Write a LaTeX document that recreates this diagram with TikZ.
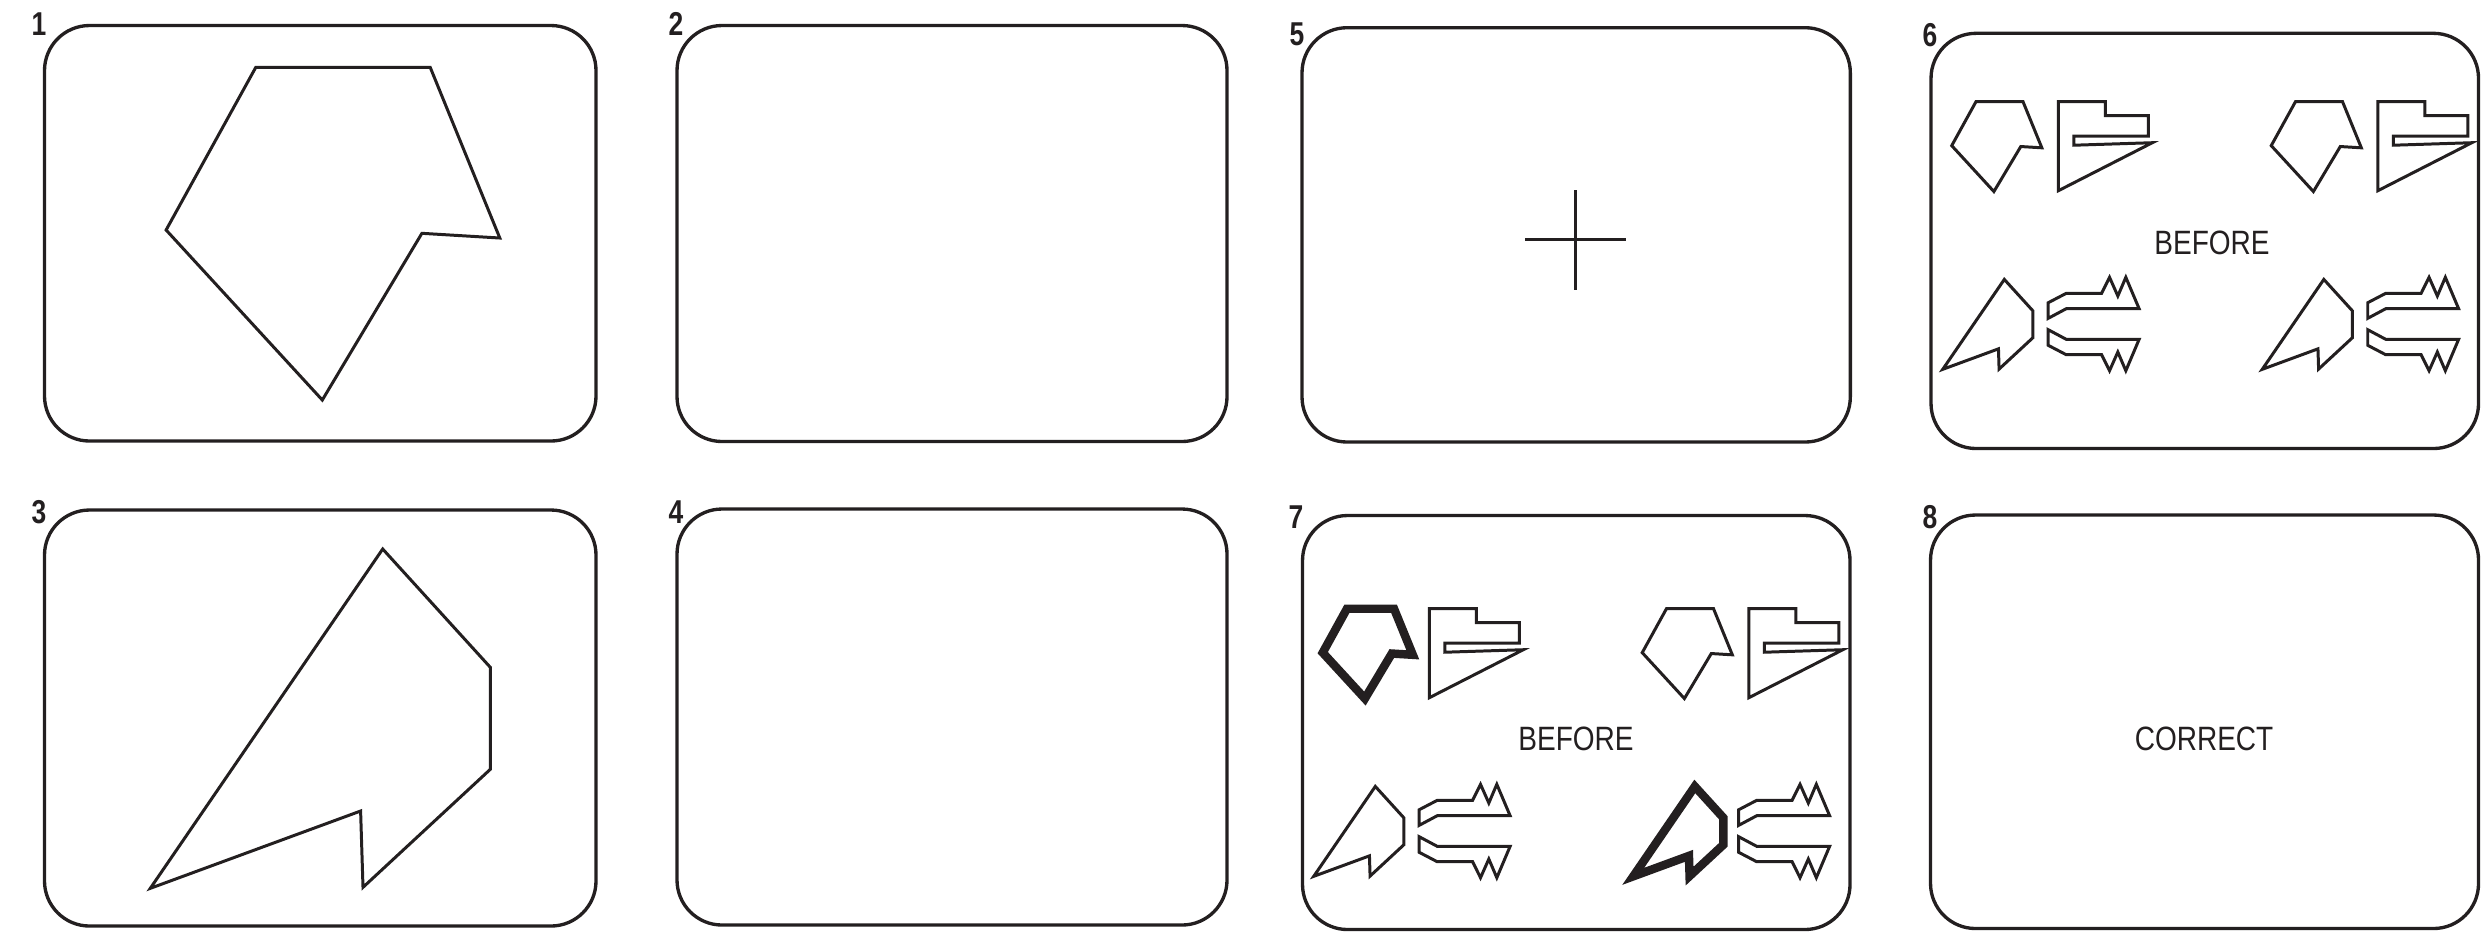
\documentclass[tikz,border=0pt]{standalone}
\usepackage{fontspec}
\newfontfamily\panelnumfont[FakeStretch=0.8]{Liberation Sans}
\newfontfamily\captionfont[FakeStretch=0.83]{Liberation Sans}
\definecolor{InkBlack}{HTML}{231F20}

\tikzset{
  pics/pentagon/.style={code={
    \draw (89.7,0) -- (264.1,0) -- (333.7,170.7) -- (255.8,166) -- (156.2,332.7) -- (0,162.7) -- cycle;
  }},
  pics/dart/.style={code={
    \draw (232.4,0) -- (340,118.3) -- (340,220.3) -- (212.7,338.3) -- (210.3,262) -- (0,339.3) -- cycle;
  }},
  pics/flag/.style={code={
    \draw (0,0) -- (47,0) -- (47,14) -- (90,14) -- (90,34.5) -- (15.5,34.5) -- (15.5,43.5) -- (94,41) -- (0,89) -- cycle;
  }},
  pics/prongs/.style={code={
    \draw (0,25.4) -- (18,16) -- (53.4,16) -- (61.3,0) -- (69.6,18.7) -- (77.6,0) -- (90.9,31.4) -- (18,31.4) -- (0,41) -- cycle;
    \draw (0,68) -- (18,77.4) -- (53.4,77.4) -- (61.3,93.4) -- (69.6,74.7) -- (77.6,93.4) -- (90.9,62) -- (18,62) -- (0,52.4) -- cycle;
  }}
}

\begin{document}
\begin{tikzpicture}[x=0.01cm, y=-0.01cm,
  panel/.style={draw=InkBlack, line width=0.95pt, rounded corners=4.5mm},
  outline/.style={draw=InkBlack, line width=0.85pt, line join=miter},
  heavy/.style={draw=InkBlack, line width=2.4pt, line join=miter},
  panelno/.style={font=\panelnumfont\fontsize{9.4}{11}\selectfont\bfseries, text=InkBlack, inner sep=0pt},
  caption/.style={font=\captionfont\fontsize{9.6}{11}\selectfont, text=InkBlack, inner sep=0pt}]
  \useasboundingbox (0,0) rectangle (2486,932);

  % frames
  \draw[panel] (44.5,25.5) rectangle (596,441);
  \draw[panel] (677,25.5) rectangle (1227,441.5);
  \draw[panel] (1302,27.7) rectangle (1850.3,442);
  \draw[panel] (1931,33.3) rectangle (2478.5,448.5);
  \draw[panel] (44.5,510) rectangle (596,926);
  \draw[panel] (677,509) rectangle (1227,925);
  \draw[panel] (1302.5,515.5) rectangle (1850,929.5);
  \draw[panel] (1930.5,515) rectangle (2478.5,928.5);

  % frame numbers
  \node[panelno] (n1) at (39,24) {1};
  \node[panelno] (n2) at (676,24) {2};
  \node[panelno] (n5) at (1297,34) {5};
  \node[panelno] (n6) at (1930,35) {6};
  \node[panelno] (n3) at (39,512) {3};
  \node[panelno] (n4) at (676,512) {4};
  \node[panelno] (n7) at (1296,517) {7};
  \node[panelno] (n8) at (1930,517.5) {8};

  % big shapes
  \pic[outline] at (166.1,67.3) {pentagon};
  \pic[outline] at (150.3,549) {dart};

  % fixation cross
  \draw[outline, line width=0.95pt] (1525.4,239.3) -- (1625.9,239.3);
  \draw[outline, line width=0.95pt] (1575.6,190) -- (1575.6,290);

  % frame 6
  \pic[outline, scale=0.27] at (1951.7,101.7) {pentagon};
  \pic[outline] at (2058.3,101.7) {flag};
  \pic[outline, scale=0.27] at (2271.2,101.7) {pentagon};
  \pic[outline] at (2377.8,101.7) {flag};
  \pic[outline, scale=0.265] at (1942.7,279.4) {dart};
  \pic[outline] at (2048.2,277.3) {prongs};
  \pic[outline, scale=0.265] at (2262.2,279.4) {dart};
  \pic[outline] at (2367.7,277.3) {prongs};
  \node[caption] (before6) at (2212,243) {BEFORE};

  % frame 7
  \pic[heavy, scale=0.27] at (1322.7,608.7) {pentagon};
  \pic[outline] at (1429.3,608.7) {flag};
  \pic[outline, scale=0.27] at (1642.2,608.7) {pentagon};
  \pic[outline] at (1748.8,608.7) {flag};
  \pic[outline, scale=0.265] at (1313.7,786.4) {dart};
  \pic[outline] at (1419.2,784.3) {prongs};
  \pic[heavy, scale=0.265] at (1633.2,786.4) {dart};
  \pic[outline] at (1738.7,784.3) {prongs};
  \node[caption] (before7) at (1576,739) {BEFORE};

  % frame 8
  \node[caption] (correct8) at (2204,739) {CORRECT};
\end{tikzpicture}
\end{document}
